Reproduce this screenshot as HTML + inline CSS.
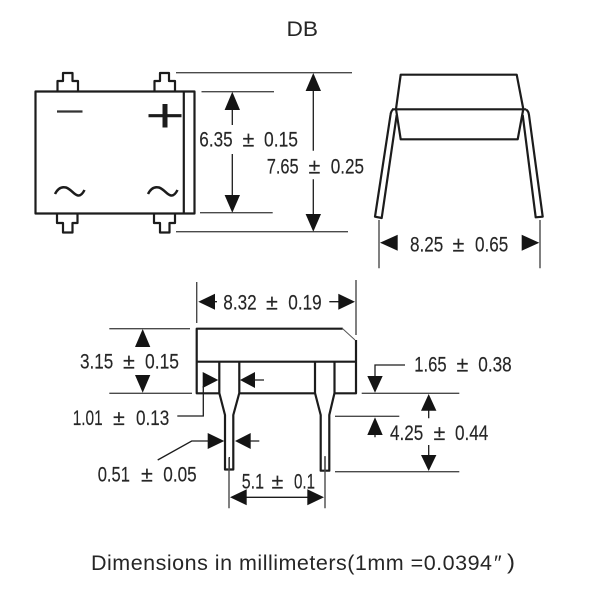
<!DOCTYPE html>
<html>
<head>
<meta charset="utf-8">
<style>
html,body{margin:0;padding:0;background:#fff;width:600px;height:600px;overflow:hidden}
svg{display:block}
text{font-family:"Liberation Sans","Noto Sans CJK SC",sans-serif;font-size:21.5px;fill:#262626;stroke:#262626;stroke-width:.15}
.t{font-size:21.5px;stroke:none}
.b{fill:none;stroke:#1c1c1c;stroke-width:2.2;stroke-linejoin:round}
.d{fill:none;stroke:#4a4a4a;stroke-width:1.4}
.l{fill:none;stroke:#1c1c1c;stroke-width:1.3}
.a{fill:#141414;stroke:none}
</style>
</head>
<body>
<svg width="600" height="600" viewBox="0 0 600 600" xmlns="http://www.w3.org/2000/svg">
<text class="t" x="286.5" y="36" textLength="31.5" lengthAdjust="spacingAndGlyphs">DB</text>

<!-- Top view -->
<rect class="b" x="35.5" y="91.5" width="159" height="122"/>
<path class="b" d="M183.8 91.5V213.5"/>
<path class="b" d="M57.5 91V81H63V73H72.5V81H78V91"/>
<path class="b" d="M154.5 91V81H160V73H169V81H175V91"/>
<path class="b" d="M57 214V223H63V232.5H72.5V223H77.5V214"/>
<path class="b" d="M154 214V223H160V232.5H169.5V223H175V214"/>
<path d="M57 111.5H82.5" fill="none" stroke="#333" stroke-width="2.2"/>
<path d="M148.5 115.7H181.5" fill="none" stroke="#1c1c1c" stroke-width="3.2"/>
<path d="M165 104V127.5" fill="none" stroke="#1c1c1c" stroke-width="5"/>
<path d="M55 194C58 188 62 186.5 66 187.5C71 189 74 195 78 195.5C81 196 83 193 84.5 190" fill="none" stroke="#1c1c1c" stroke-width="2.5"/>
<path d="M148 194C151 188 155 186.5 159 187.5C164 189 167 195 171 195.5C174 196 176 193 177.5 190" fill="none" stroke="#1c1c1c" stroke-width="2.5"/>

<path class="d" d="M176 72.7H352M176 231.7H348M201.5 91.7H274M200 212.7H272.7"/>
<path class="l" d="M232.3 108V125M232.3 154V197M313.3 89V150.7M313.3 179.3V216"/>
<path class="a" d="M232.3 91.7L240 110H224.6Z"/>
<path class="a" d="M232.3 212.7L240 195H224.6Z"/>
<path class="a" d="M313.3 73L321 91H305.6Z"/>
<path class="a" d="M313.3 231.7L321 214H305.6Z"/>

<text x="199.3" y="146.5" textLength="33.4" lengthAdjust="spacingAndGlyphs">6.35</text>
<text x="242.5" y="146.5">±</text>
<text x="264" y="146.5" textLength="34" lengthAdjust="spacingAndGlyphs">0.15</text>
<text x="266.7" y="173.3" textLength="32" lengthAdjust="spacingAndGlyphs">7.65</text>
<text x="308.5" y="173.3">±</text>
<text x="330.7" y="173.3" textLength="33.3" lengthAdjust="spacingAndGlyphs">0.25</text>

<!-- Side view -->
<path class="b" d="M396 109L400.7 74.7H516.7L523.3 109"/>
<path class="b" d="M392 109.3H526"/>
<path class="b" d="M396 109L400.7 139.3H517.7L523.3 109"/>
<path class="b" d="M393 109.5Q391 111 390.5 115L375 216.7L381.7 218L396.7 115"/>
<path class="b" d="M526 109.5Q528.5 111 529 115L542.7 216.7L535.7 217.3L522.7 115"/>
<path class="d" d="M379 220V268.3M540 220V268.3"/>
<path class="a" d="M380 242.7L397.7 234.7V250.7Z"/>
<path class="a" d="M539.3 242.7L521.7 234.7V250.7Z"/>
<text x="410" y="251.7" textLength="33.3" lengthAdjust="spacingAndGlyphs">8.25</text>
<text x="452.5" y="251.7">±</text>
<text x="475" y="251.7" textLength="33.3" lengthAdjust="spacingAndGlyphs">0.65</text>

<!-- Front view -->
<path class="b" d="M342.7 328.7H196.7V393.3H219.3"/>
<path class="b" d="M196.7 361.7H356"/>
<path class="b" d="M356 340V393.3H334.5"/>
<path class="b" d="M239.5 393.3H315"/>
<path d="M342.7 328.7L355 340" fill="none" stroke="#555" stroke-width="1"/>
<path class="b" d="M219.3 361.7V393L225 415V469.5H233.3V415L239.3 393V361.7"/>
<path class="b" d="M315 361.7V393L320.7 415V470.7H329.3V415L334.5 393V361.7"/>
<path class="l" d="M229.3 457V469M325 457V470"/>

<path class="d" d="M196.7 282V323M356 280V335"/>
<path class="l" d="M213 301.7H217M329.3 301.7H340"/>
<path class="a" d="M198.3 301.7L215 293.7V309.7Z"/>
<path class="a" d="M355 301.7L338.3 293.7V309.7Z"/>
<text x="223.3" y="309.3" textLength="33.4" lengthAdjust="spacingAndGlyphs">8.32</text>
<text x="266" y="309.3">±</text>
<text x="288.3" y="309.3" textLength="33.4" lengthAdjust="spacingAndGlyphs">0.19</text>

<path class="d" d="M109.3 328.7H190M109.3 393.3H192"/>
<path class="a" d="M142.7 329L150.3 347H135Z"/>
<path class="a" d="M142.7 392.7L150.3 375H135Z"/>
<text x="80" y="368.3" textLength="33.3" lengthAdjust="spacingAndGlyphs">3.15</text>
<text x="123" y="368.3">±</text>
<text x="145" y="368.3" textLength="34" lengthAdjust="spacingAndGlyphs">0.15</text>

<path class="a" d="M218.3 380L202.7 372V388Z"/>
<path class="a" d="M240 380L255 372V388Z"/>
<path class="l" d="M253 380H264M203.3 386V416H177.3"/>
<text x="72.7" y="425" textLength="30" lengthAdjust="spacingAndGlyphs">1.01</text>
<text x="113" y="425">±</text>
<text x="136" y="425" textLength="33.3" lengthAdjust="spacingAndGlyphs">0.13</text>

<path class="a" d="M224.3 441L207.7 433V449Z"/>
<path class="a" d="M235 441L250.7 433V449Z"/>
<path class="l" d="M209 441H191.7L157.7 460M249 441H259.3"/>
<text x="97.7" y="481.7" textLength="32.3" lengthAdjust="spacingAndGlyphs">0.51</text>
<text x="141" y="481.7">±</text>
<text x="163.3" y="481.7" textLength="33.4" lengthAdjust="spacingAndGlyphs">0.05</text>

<path class="d" d="M229 458V508.3M325 456V508.3"/>
<path class="l" d="M245 497.3H309"/>
<path class="a" d="M230 497.3L246.7 489.3V505.3Z"/>
<path class="a" d="M324 497.3L307.3 489.3V505.3Z"/>
<text x="241.7" y="488.3" textLength="22.3" lengthAdjust="spacingAndGlyphs">5.1</text>
<text x="271.5" y="488.3">±</text>
<text x="294" y="488.3" textLength="21" lengthAdjust="spacingAndGlyphs">0.1</text>

<path class="d" d="M361.7 393.3H459.3M335 416.3H399.3M335 471.7H459.3"/>
<path class="l" d="M405 365H375V378"/>
<path class="a" d="M375 392.7L367.3 376H382.7Z"/>
<text x="414.3" y="371.7" textLength="32.4" lengthAdjust="spacingAndGlyphs">1.65</text>
<text x="456.5" y="371.7">±</text>
<text x="478.3" y="371.7" textLength="33.4" lengthAdjust="spacingAndGlyphs">0.38</text>

<path class="l" d="M428.7 409V418.3M428.7 445V457M375 433V437.3"/>
<path class="a" d="M428.7 394L436.4 410.7H421Z"/>
<path class="a" d="M428.7 471L436.4 455H421Z"/>
<path class="a" d="M375 417.3L382.7 435H367.3Z"/>
<text x="390" y="440" textLength="33.3" lengthAdjust="spacingAndGlyphs">4.25</text>
<text x="433.5" y="440">±</text>
<text x="455" y="440" textLength="33.3" lengthAdjust="spacingAndGlyphs">0.44</text>

<text class="t" x="91" y="570" textLength="401" lengthAdjust="spacing">Dimensions in millimeters(1mm =0.0394</text>
<text class="t" x="494" y="570">″</text>
<text class="t" x="507" y="569" textLength="8" lengthAdjust="spacingAndGlyphs">)</text>
</svg>
</body>
</html>
